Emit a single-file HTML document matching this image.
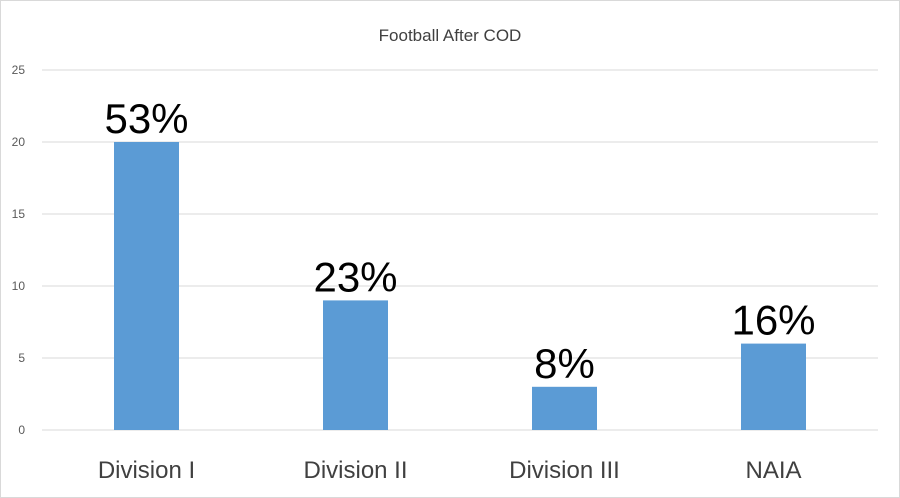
<!DOCTYPE html>
<html><head><meta charset="utf-8"><style>
html,body{margin:0;padding:0;background:#fff;}
svg{display:block;font-family:"Liberation Sans",sans-serif;}
</style></head><body>
<svg id="chart" width="900" height="498">
<rect x="0.5" y="0.5" width="899" height="497" fill="#fff" stroke="#d9d9d9"/>
<text x="450" y="41" text-anchor="middle" font-size="17" fill="#404040">Football After COD</text>
<g id="grid"></g><g id="bars"></g>
</svg>
<script>
const categories=["Division I","Division II","Division III","NAIA"];
const values=[20,9,3,6];
const labels=["53%","23%","8%","16%"];
const ticks=[0,5,10,15,20,25];
const svg=document.getElementById('chart'),NS="http://www.w3.org/2000/svg";
const x0=42,x1=878,y0=430,y1=70,maxV=25;
const y=v=>y0-(v/maxV)*(y0-y1);
const bw=(x1-x0)/categories.length;
const xc=i=>x0+bw*(i+0.5);
function mk(t,a){const e=document.createElementNS(NS,t);for(const k in a)e.setAttribute(k,a[k]);return e;}
const g=document.getElementById('grid'),b=document.getElementById('bars');
ticks.forEach(t=>{
 const l=mk('line',{x1:x0,x2:x1,y1:y(t),y2:y(t),stroke:'#d9d9d9','stroke-width':1});
 
 
 g.appendChild(l);
 const tx=mk('text',{x:25,y:y(t)+4,'text-anchor':'end','font-size':12,fill:'#595959'});
 tx.textContent=t;
 
 
 g.appendChild(tx);
});
categories.forEach((c,i)=>{
 const r=mk('rect',{x:xc(i)-32.5,y:y(values[i]),width:65,height:y0-y(values[i]),fill:'#5b9bd5'});
 
 
 b.appendChild(r);
 const dl=mk('text',{x:xc(i),y:y(values[i])-9,'text-anchor':'middle','font-size':42,fill:'#000'});
 dl.textContent=labels[i];
 
 
 b.appendChild(dl);
 const cl=mk('text',{x:xc(i),y:478,'text-anchor':'middle','font-size':24,fill:'#404040'});
 cl.textContent=c;
 
 
 b.appendChild(cl);
});
</script>
</body></html>
